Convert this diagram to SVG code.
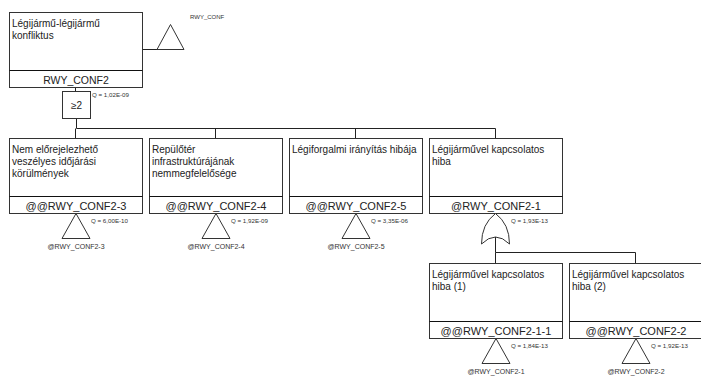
<svg xmlns="http://www.w3.org/2000/svg" width="701" height="376" viewBox="0 0 701 376">
<style>
.box{fill:#fff;stroke:#333;stroke-width:1}
.div{stroke:#111;stroke-width:1}
.ln{fill:none;stroke:#222;stroke-width:1}
.tri{fill:#fff;stroke:#333;stroke-width:1}
.t{font-family:"Liberation Sans",Arial,sans-serif;font-size:10px;fill:#222}
.id{font-family:"Liberation Sans",Arial,sans-serif;font-size:11px;fill:#222;text-anchor:middle}
.s{font-family:"Liberation Sans",Arial,sans-serif;font-size:6.2px;fill:#333}
.sc{font-family:"Liberation Sans",Arial,sans-serif;font-size:7px;fill:#333;text-anchor:middle}
</style>
<rect width="701" height="376" fill="#fff"/>
<g id="connectors">
<path class="ln" d="M142.5 49.5H157"/>
<path class="ln" d="M75.5 87V91.5"/>
<path class="ln" d="M76.5 119V128.5H495.5V138M75.5 128.5V138M215.5 128.5V138M355.5 128.5V138"/>
<path class="ln" d="M495.5 237V252.5H635.5V263M495.5 252.5V263"/>
</g>
<g id="top">
<rect class="box" x="9.5" y="12.5" width="133" height="75"/>
<path class="div" d="M9.5 70.5H142.5"/>
<text class="t" x="12" y="27">Légijármű-légijármű</text>
<text class="t" x="12" y="39">konfliktus</text>
<text class="id" x="76" y="84" style="font-size:10.5px">RWY_CONF2</text>
<path class="tri" d="M157 49.5L170.5 24.5L184 49.5Z"/>
<text class="s" x="190" y="19" style="font-size:6px">RWY_CONF</text>
</g>
<g id="gate">
<rect class="box" x="62.5" y="91.5" width="28" height="27"/>
<text class="t" x="76.5" y="109" text-anchor="middle">≥2</text>
<text class="s" x="92" y="97">Q = 1,02E-09</text>
</g>
<g id="n3">
<rect class="box" x="9.5" y="138.5" width="133" height="75"/>
<path class="div" d="M9.5 196.5H142.5"/>
<text class="t" x="12" y="153">Nem előrejelezhető</text>
<text class="t" x="12" y="165">veszélyes időjárási</text>
<text class="t" x="12" y="177">körülmények</text>
<text class="id" x="76" y="209.5">@@RWY_CONF2-3</text>
<path class="tri" d="M62 238.5L76 213.5L90 238.5Z"/>
<text class="sc" x="76" y="249">@RWY_CONF2-3</text>
<text class="s" x="91" y="223">Q = 6,00E-10</text>
</g>
<g id="n4">
<rect class="box" x="149.5" y="138.5" width="133" height="75"/>
<path class="div" d="M149.5 196.5H282.5"/>
<text class="t" x="152" y="153">Repülőtér</text>
<text class="t" x="152" y="165">infrastruktúrájának</text>
<text class="t" x="152" y="177">nemmegfelelősége</text>
<text class="id" x="216" y="209.5">@@RWY_CONF2-4</text>
<path class="tri" d="M202 238.5L216 213.5L230 238.5Z"/>
<text class="sc" x="216" y="249">@RWY_CONF2-4</text>
<text class="s" x="231" y="223">Q = 1,92E-09</text>
</g>
<g id="n5">
<rect class="box" x="289.5" y="138.5" width="133" height="75"/>
<path class="div" d="M289.5 196.5H422.5"/>
<text class="t" x="292" y="153">Légiforgalmi irányítás hibája</text>
<text class="id" x="356" y="209.5">@@RWY_CONF2-5</text>
<path class="tri" d="M342 238.5L356 213.5L370 238.5Z"/>
<text class="sc" x="356" y="249">@RWY_CONF2-5</text>
<text class="s" x="371" y="223">Q = 3,35E-06</text>
</g>
<g id="n1">
<rect class="box" x="429.5" y="138.5" width="133" height="75"/>
<path class="div" d="M429.5 196.5H562.5"/>
<text class="t" x="432" y="153">Légijárművel kapcsolatos</text>
<text class="t" x="432" y="165">hiba</text>
<text class="id" x="496" y="209.5">@RWY_CONF2-1</text>
<path class="tri" d="M481.5 244Q481.5 224 495.5 213.5Q509.5 224 509.5 244Q495.5 230 481.5 244Z"/>
<text class="s" x="511" y="223">Q = 1,93E-13</text>
</g>
<g id="n11">
<rect class="box" x="429.5" y="263.5" width="133" height="75"/>
<path class="div" d="M429.5 321.5H562.5"/>
<text class="t" x="432" y="278">Légijárművel kapcsolatos</text>
<text class="t" x="432" y="290">hiba (1)</text>
<text class="id" x="496" y="334.5">@@RWY_CONF2-1-1</text>
<path class="tri" d="M482 363.5L496 338.5L510 363.5Z"/>
<text class="sc" x="496" y="374">@RWY_CONF2-1</text>
<text class="s" x="511" y="348">Q = 1,84E-13</text>
</g>
<g id="n2">
<rect class="box" x="569.5" y="263.5" width="133" height="75"/>
<path class="div" d="M569.5 321.5H702.5"/>
<text class="t" x="572" y="278">Légijárművel kapcsolatos</text>
<text class="t" x="572" y="290">hiba (2)</text>
<text class="id" x="636" y="334.5">@@RWY_CONF2-2</text>
<path class="tri" d="M622 363.5L636 338.5L650 363.5Z"/>
<text class="sc" x="636" y="374">@RWY_CONF2-2</text>
<text class="s" x="651" y="348">Q = 1,92E-13</text>
</g>
</svg>
